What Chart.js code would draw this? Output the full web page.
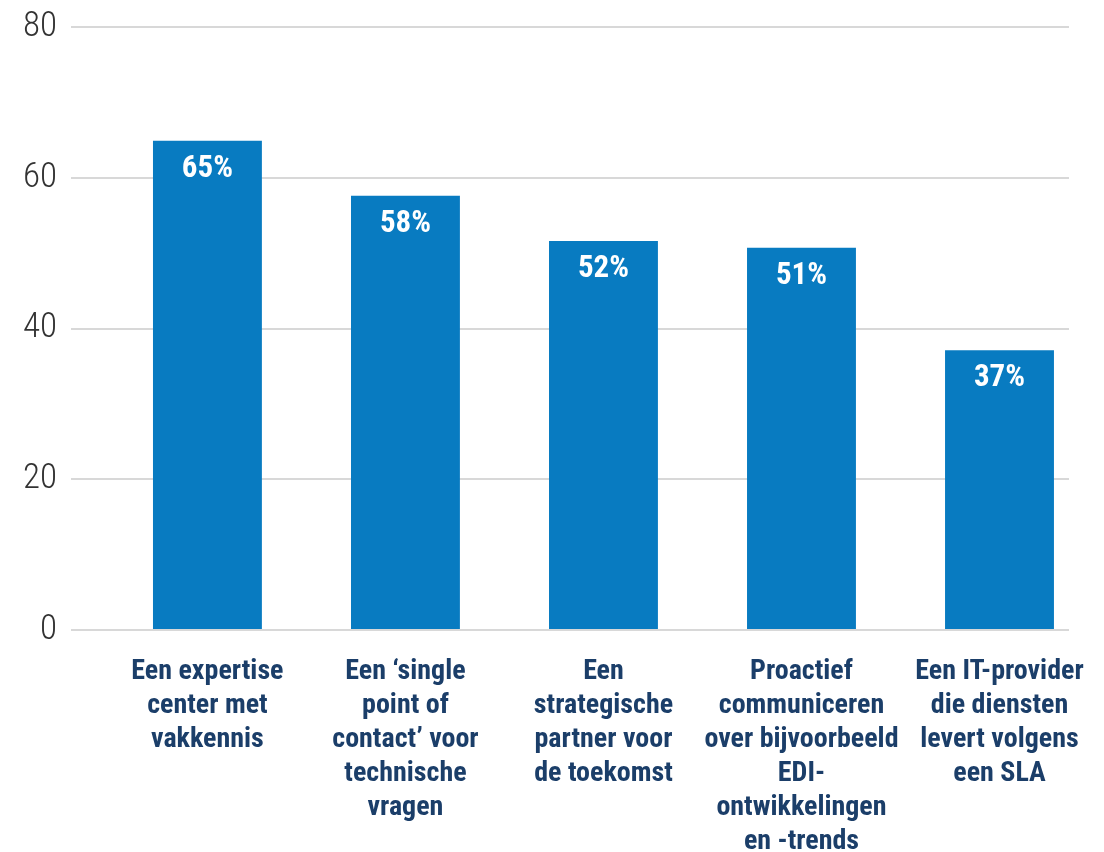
<!DOCTYPE html>
<html>
<head>
<meta charset="utf-8">
<style>
  html, body { margin: 0; padding: 0; background: #ffffff; }
  #wrap { width: 1104px; height: 852px; position: relative; }
</style>
<script src="https://cdn.jsdelivr.net/npm/chart.js@4/dist/chart.umd.min.js"></script>
</head>
<body>
<div id="wrap"><canvas id="c" width="1104" height="852"></canvas></div>
<script>
const categories = [
  ["Een expertise", "center met", "vakkennis"],
  ["Een \u2018single", "point of", "contact\u2019 voor", "technische", "vragen"],
  ["Een", "strategische", "partner voor", "de toekomst"],
  ["Proactief", "communiceren", "over bijvoorbeeld", "EDI-", "ontwikkelingen", "en -trends"],
  ["Een IT-provider", "die diensten", "levert volgens", "een SLA"]
];
const values = [64.9, 57.6, 51.6, 50.7, 37.1];
const yTicks = [0, 20, 40, 60, 80];

const FONT = "'Roboto Condensed', 'Roboto', 'Liberation Sans', sans-serif";

const barLabels = {
  id: 'barLabels',
  afterDatasetsDraw(chart) {
    const ctx = chart.ctx;
    const meta = chart.getDatasetMeta(0);
    ctx.save();
    ctx.fillStyle = '#ffffff';
    ctx.font = "bold 31px " + FONT;
    ctx.textAlign = 'center';
    ctx.textBaseline = 'middle';
    meta.data.forEach((bar, i) => {
      ctx.fillText(Math.round(values[i]) + '%', bar.x, bar.y + 28);
    });
    ctx.restore();
  }
};

new Chart(document.getElementById('c'), {
  type: 'bar',
  data: {
    datasets: [{
      data: values.map((v, i) => ({ x: i, y: v })),
      backgroundColor: '#087bc1',
      borderWidth: 0,
      barPercentage: 0.55,
      categoryPercentage: 1.0
    }]
  },
  options: {
    responsive: false,
    animation: false,
    layout: { padding: { top: 27, right: 35, bottom: 0, left: 0 } },
    plugins: { legend: { display: false }, tooltip: { enabled: false } },
    scales: {
      x: {
        type: 'linear',
        offset: false,
        min: -0.689,
        max: 4.351,
        afterBuildTicks(scale) {
          scale.ticks = categories.map((c, i) => ({ value: i }));
        },
        afterFit(scale) {
          scale.height = 222;
          scale.paddingLeft = 0;
          scale.paddingRight = 0;
        },
        grid: { display: false, drawTicks: false },
        border: { display: false },
        ticks: {
          autoSkip: false,
          maxRotation: 0,
          minRotation: 0,
          padding: 25,
          color: '#1b3e69',
          font: { family: FONT, size: 28, weight: 'bold', lineHeight: 34 / 28 },
          callback: (v) => categories[v]
        }
      },
      y: {
        min: 0,
        max: 80,
        afterBuildTicks(scale) {
          scale.ticks = yTicks.map(v => ({ value: v }));
        },
        afterFit(scale) {
          scale.width = 71;
          scale.paddingTop = 0;
          scale.paddingBottom = 0;
        },
        grid: { color: '#d8d8d8', lineWidth: 2, drawTicks: false },
        border: { display: false },
        ticks: {
          padding: 14,
          color: '#333333',
          font: { family: FONT, size: 35, weight: 300 }
        }
      }
    }
  },
  plugins: [barLabels]
});
</script>
</body>
</html>
